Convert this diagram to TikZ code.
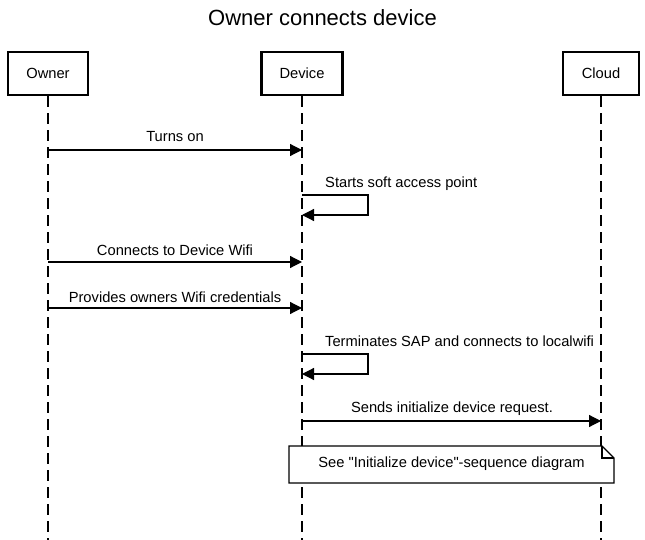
\documentclass[tikz,border=0pt]{standalone}
\usepackage{fontspec}
\setmainfont{Liberation Sans}[Ligatures=TeXOff]
\usetikzlibrary{arrows.meta}
\begin{document}
\begin{tikzpicture}[x=1pt,y=-1pt,
  actor/.style={draw=black,line width=2.6pt,fill=white,minimum height=43pt,inner sep=0pt,font=\fontsize{14.7}{17}\selectfont},
  lifeline/.style={draw=black,line width=1.3pt,dash pattern=on 11pt off 6pt},
  msg/.style={draw=black,line width=1.2pt,-{Triangle[length=12pt,width=12pt]}},
  lbl/.style={font=\fontsize{14.7}{17}\selectfont,inner sep=0pt},
  notebox/.style={draw=black,line width=1.2pt,fill=white}]
\useasboundingbox (0,0) rectangle (645,540);
\node[font=\fontsize{22}{26}\selectfont,inner sep=0pt] (title) at (322.5,18) {Owner connects device};
% actors
\node[actor,minimum width=80pt] (owner) at (48,73.5) {Owner};
\node[actor,minimum width=81pt] (device) at (302,73.5) {Device};
\node[actor,minimum width=76pt] (cloud) at (601,73.5) {Cloud};
% lifeline ends
\coordinate (ownerend) at (48,540);
\coordinate (deviceend) at (302,540);
\coordinate (cloudend) at (601,540);
\draw[lifeline] (owner.south) -- (ownerend);
\draw[lifeline] (device.south) -- (deviceend);
\draw[lifeline] (cloud.south) -- (cloudend);
% message points
\coordinate (m1a) at (48,150); \coordinate (m1b) at (302,150);
\coordinate (s1a) at (302,195); \coordinate (s1b) at (368,195); \coordinate (s1c) at (368,215); \coordinate (s1d) at (302,215);
\coordinate (m2a) at (48,262); \coordinate (m2b) at (302,262);
\coordinate (m3a) at (48,308); \coordinate (m3b) at (302,308);
\coordinate (s2a) at (302,354); \coordinate (s2b) at (368,354); \coordinate (s2c) at (368,374); \coordinate (s2d) at (302,374);
\coordinate (m4a) at (302,421); \coordinate (m4b) at (601,421);
% messages
\draw[msg] (m1a) -- (m1b);
\node[lbl] (l1) at (175,137) {Turns on};
\draw[msg] (s1a) -- (s1b) -- (s1c) -- (s1d);
\node[lbl,anchor=west] (l2) at (325,183.5) {Starts soft access point};
\draw[msg] (m2a) -- (m2b);
\node[lbl] (l3) at (175,250) {Connects to Device Wifi};
\draw[msg] (m3a) -- (m3b);
\node[lbl] (l4) at (175,297) {Provides owners Wifi credentials};
\draw[msg] (s2a) -- (s2b) -- (s2c) -- (s2d);
\node[lbl,anchor=west] (l5) at (325,341.5) {Terminates SAP and connects to localwifi};
\draw[msg] (m4a) -- (m4b);
\node[lbl] (l6) at (452,409) {Sends initialize device request.};
% note
\draw[notebox] (289,446) -- (602,446) -- (614,458) -- (614,483) -- (289,483) -- cycle;
\draw[line width=1.2pt] (602,446) -- (602,458) -- (614,458);
\node[lbl] (note) at (451.5,464) {See "Initialize device"-sequence diagram};
\end{tikzpicture}
\end{document}
